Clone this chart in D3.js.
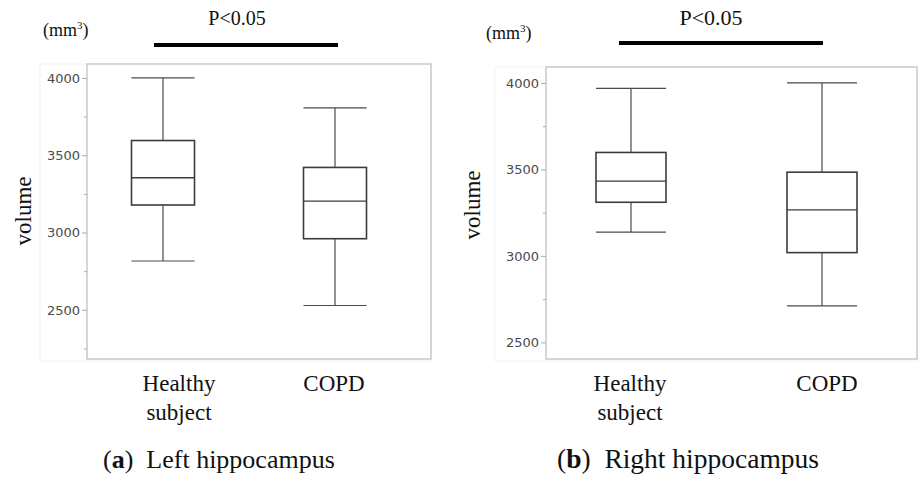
<!DOCTYPE html>
<html>
<head>
<meta charset="utf-8">
<script src="https://cdn.jsdelivr.net/npm/d3@7"></script>
<style>
  body { margin: 0; background: #fff; }
  svg { display: block; }
  .tick text { font-family: 'DejaVu Sans', sans-serif; font-size: 13px; fill: #4a4a4a; }
  .tick line { stroke: #aaa; }
  .serif { font-family: 'Liberation Serif', 'Times New Roman', serif; fill: #111; }
</style>
</head>
<body>
<svg width="919" height="478"></svg>
<script>
// groups on the x axis
const groups = ['Healthy subject', 'COPD']

// box stats per group: [min, q1, median, q3, max] (mm3)
const leftStats = [[2816, 3178, 3354, 3595, 4000], [2528, 2960, 3203, 3421, 3806]]
const rightStats = [[3137, 3310, 3432, 3598, 3969], [2711, 3019, 3266, 3484, 4000]]

const leftDomain = [2182, 4090]
const rightDomain = [2404, 4092]
const majorTicks = [2500, 3000, 3500, 4000]
const leftMinor = [2250, 2750, 3250, 3750]
const rightMinor = [2750, 3250, 3750]

const pLabel = 'P<0.05'
const captions = [['a', 'Left hippocampus'], ['b', 'Right hippocampus']]

const panels = [
  {stats: leftStats, domain: leftDomain, minor: leftMinor, caption: captions[0],
    x0: 87, x1: 431, y0: 64, y1: 359, padL: 76, padR: 96, boxW: 63, labelShift: [16, -1],
    outerX: 40, unitX: 43, unitY: 36, pX: 237, pY: 25, pSize: 20, barX: [154, 338], barY: 45,
    volX: 23, volY: 211, capX: 103, capY: 468, capSize: 26},
  {stats: rightStats, domain: rightDomain, minor: rightMinor, caption: captions[1],
    x0: 546, x1: 917, y0: 67, y1: 359, padL: 85, padR: 95, boxW: 70, labelShift: [-1, 5],
    outerX: 495, unitX: 486, unitY: 39, pX: 711, pY: 25, pSize: 22, barX: [619, 823], barY: 43,
    volX: 472, volY: 205, capX: 557, capY: 468, capSize: 27.5}
]

const svg = d3.select('svg')

panels.forEach(p => {
  const g = svg.append('g')
  const y = d3.scaleLinear().domain(p.domain).range([p.y1, p.y0])
  const x = d3.scalePoint().domain(groups).range([p.x0 + p.padL, p.x1 - p.padR])

  // faint outer box and plot frame
  g.append('rect')
    .attr('x', p.outerX).attr('y', p.y0)
    .attr('width', p.x1 - p.outerX).attr('height', p.y1 - p.y0 + 2)
    .attr('fill', 'none').attr('stroke', '#f2f2f2')
  g.append('rect')
    .attr('x', p.x0).attr('y', p.y0)
    .attr('width', p.x1 - p.x0).attr('height', p.y1 - p.y0)
    .attr('fill', '#fff').attr('stroke', '#c9c9c9').attr('stroke-width', 1.5)

  // y axis, major + minor ticks
  g.append('g')
    .attr('transform', 'translate(' + p.x0 + ',0)')
    .call(d3.axisLeft(y).tickValues(majorTicks).tickSize(5).tickPadding(2).tickFormat(d3.format('d')))
    .call(a => a.select('.domain').remove())
  g.append('g')
    .attr('transform', 'translate(' + p.x0 + ',0)')
    .call(d3.axisLeft(y).tickValues(p.minor).tickSize(3).tickFormat(''))
    .call(a => a.select('.domain').remove())

  // boxes
  const box = g.selectAll('.box')
    .data(p.stats)
    .enter()
    .append('g')
    .attr('class', 'box')
  const cx = (d, i) => x(groups[i])
  box.append('line')
    .attr('x1', cx).attr('x2', cx)
    .attr('y1', d => y(d[0])).attr('y2', d => y(d[4]))
    .attr('stroke', '#4a4a4a').attr('stroke-width', 1.2)
  ;[0, 4].forEach(k => {
    box.append('line')
      .attr('x1', (d, i) => cx(d, i) - p.boxW / 2).attr('x2', (d, i) => cx(d, i) + p.boxW / 2)
      .attr('y1', d => y(d[k])).attr('y2', d => y(d[k]))
      .attr('stroke', '#4a4a4a').attr('stroke-width', 1.2)
  })
  box.append('rect')
    .attr('x', (d, i) => cx(d, i) - p.boxW / 2)
    .attr('y', d => y(d[3]))
    .attr('width', p.boxW)
    .attr('height', d => y(d[1]) - y(d[3]))
    .attr('fill', '#fff').attr('stroke', '#3c3c3c').attr('stroke-width', 1.6)
  box.append('line')
    .attr('x1', (d, i) => cx(d, i) - p.boxW / 2).attr('x2', (d, i) => cx(d, i) + p.boxW / 2)
    .attr('y1', d => y(d[2])).attr('y2', d => y(d[2]))
    .attr('stroke', '#3c3c3c').attr('stroke-width', 1.4)

  // group labels
  groups.forEach((name, i) => {
    const words = name.split(' ')
    const t = g.append('text')
      .attr('class', 'serif')
      .attr('text-anchor', 'middle')
      .style('font-size', '23px')
    words.forEach((w, j) => {
      t.append('tspan')
        .attr('x', x(name) + p.labelShift[i])
        .attr('y', 391 + j * 29)
        .text(w)
    })
  })

  // y title
  g.append('text')
    .attr('class', 'serif')
    .attr('transform', 'translate(' + (p.volX + 8) + ',' + p.volY + ') rotate(-90)')
    .attr('text-anchor', 'middle')
    .style('font-size', '23px')
    .text('volume')

  // unit
  const u = g.append('text')
    .attr('class', 'serif')
    .attr('x', p.unitX).attr('y', p.unitY)
    .style('font-size', '18px')
  u.append('tspan').text('(mm')
  u.append('tspan').attr('dy', -7).style('font-size', '11px').text('3')
  u.append('tspan').attr('dy', 7).text(')')

  // significance marker
  g.append('text')
    .attr('class', 'serif')
    .attr('x', p.pX).attr('y', p.pY)
    .attr('text-anchor', 'middle')
    .style('font-size', p.pSize + 'px')
    .text(pLabel)
  g.append('line')
    .attr('x1', p.barX[0]).attr('x2', p.barX[1])
    .attr('y1', p.barY).attr('y2', p.barY)
    .attr('stroke', '#000').attr('stroke-width', 4)

  // caption
  const c = g.append('text')
    .attr('class', 'serif')
    .attr('x', p.capX).attr('y', p.capY)
    .style('font-size', p.capSize + 'px')
  c.append('tspan').text('(')
  c.append('tspan').style('font-weight', 'bold').text(p.caption[0])
  c.append('tspan').text(')\u00a0\u00a0' + p.caption[1])
})
</script>
</body>
</html>
